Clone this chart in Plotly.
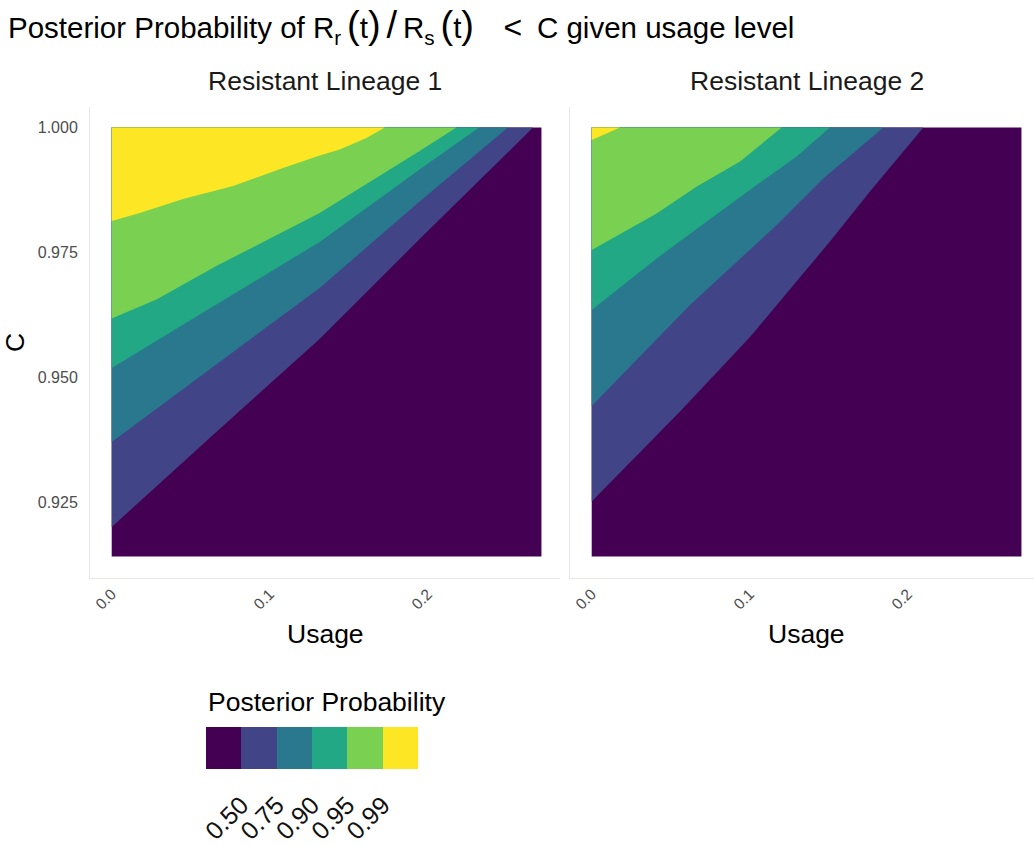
import plotly.graph_objects as go

W, H = 1034, 846

# ---- data -----------------------------------------------------------------
USAGE_MAX = 0.272
C_MIN = 0.9142
C_MAX = 1.0

LEVELS = [0.50, 0.75, 0.90, 0.95, 0.99]
LEVEL_LABELS = ["0.50", "0.75", "0.90", "0.95", "0.99"]
BAND_COLORS = ["#440154", "#414487", "#2A788E", "#22A884", "#7AD151", "#FDE725"]

LINEAGES = ["Resistant Lineage 1", "Resistant Lineage 2"]

X_TICKS = [0.0, 0.1, 0.2]
Y_TICKS = [0.925, 0.950, 0.975, 1.000]

# Contour lines of the posterior probability (usage, C) for lineage 1
lin1_p50_usage = [0.0, 0.0662, 0.1316, 0.1949, 0.2667]
lin1_p50_c = [0.9201, 0.9391, 0.9577, 0.9777, 1.000]
lin1_p75_usage = [0.0, 0.0662, 0.1316, 0.1949, 0.2508]
lin1_p75_c = [0.9371, 0.9526, 0.9679, 0.9852, 1.000]
lin1_p90_usage = [0.0, 0.0662, 0.1316, 0.1949, 0.2325]
lin1_p90_c = [0.9519, 0.9646, 0.9771, 0.9916, 1.000]
lin1_p95_usage = [0.0, 0.0283, 0.0662, 0.1316, 0.1949, 0.2181]
lin1_p95_c = [0.9618, 0.9656, 0.9723, 0.9829, 0.9953, 1.000]
lin1_p99_usage = [0.0, 0.0177, 0.0451, 0.0768, 0.1084, 0.1316, 0.1443, 0.1612, 0.1728]
lin1_p99_c = [0.9813, 0.9829, 0.9857, 0.9883, 0.9919, 0.9944, 0.9956, 0.9979, 1.000]

# Contour lines of the posterior probability (usage, C) for lineage 2
lin2_p50_usage = [0.0, 0.0559, 0.1002, 0.1508, 0.1761, 0.2099]
lin2_p50_c = [0.9252, 0.9432, 0.9581, 0.9772, 0.9872, 1.000]
lin2_p75_usage = [0.0, 0.0622, 0.1171, 0.1466, 0.1846]
lin2_p75_c = [0.9443, 0.9645, 0.9805, 0.9898, 1.000]
lin2_p90_usage = [0.0, 0.0411, 0.0728, 0.1044, 0.1297, 0.1508]
lin2_p90_c = [0.9635, 0.9738, 0.9812, 0.9885, 0.9942, 1.000]
lin2_p95_usage = [0.0, 0.0411, 0.0665, 0.0939, 0.1203]
lin2_p95_c = [0.9755, 0.9828, 0.9882, 0.9932, 1.000]
lin2_p99_usage = [0.0, 0.0179]
lin2_p99_c = [0.9975, 1.000]

CONTOURS = [
    [(lin1_p50_usage, lin1_p50_c), (lin1_p75_usage, lin1_p75_c),
     (lin1_p90_usage, lin1_p90_c), (lin1_p95_usage, lin1_p95_c),
     (lin1_p99_usage, lin1_p99_c)],
    [(lin2_p50_usage, lin2_p50_c), (lin2_p75_usage, lin2_p75_c),
     (lin2_p90_usage, lin2_p90_c), (lin2_p95_usage, lin2_p95_c),
     (lin2_p99_usage, lin2_p99_c)],
]

# ---- layout geometry (pixels) --------------------------------------------
FONT = "Liberation Sans, Arial, sans-serif"
PX_PER_U = 1580.0      # horizontal scale
PX_PER_C = 5000.0      # vertical scale
PANELS_PX = [(90, 560, 111.7), (570, 1034, 591.7)]   # left, right, pixel of usage 0
PANEL_TOP, PANEL_BOTTOM, C1_PX = 107, 578, 127.5


def px_x(p):
    return p / W


def px_y(p):
    return 1 - p / H


fig = go.Figure()

for i, name in enumerate(LINEAGES):
    xa = "x" if i == 0 else "x2"
    ya = "y" if i == 0 else "y2"
    # lowest band covers the full grid
    fig.add_trace(go.Scatter(
        x=[0, USAGE_MAX, USAGE_MAX, 0, 0],
        y=[C_MIN, C_MIN, C_MAX, C_MAX, C_MIN],
        fill="toself", mode="none", fillcolor=BAND_COLORS[0],
        xaxis=xa, yaxis=ya, showlegend=False, hoverinfo="skip"))
    # each higher band: region above its contour line
    for k, (u, c) in enumerate(CONTOURS[i]):
        fig.add_trace(go.Scatter(
            x=list(u) + [0.0], y=list(c) + [C_MAX],
            fill="toself", mode="none", fillcolor=BAND_COLORS[k + 1],
            xaxis=xa, yaxis=ya, showlegend=False, hoverinfo="skip",
            name=f"P > {LEVELS[k]:.2f}"))

# discrete colour key
n_bands = len(BAND_COLORS)
scale = []
for k, col in enumerate(BAND_COLORS):
    scale.append([k / n_bands, col])
    scale.append([(k + 1) / n_bands, col])

fig.add_trace(go.Scatter(
    x=[None], y=[None], mode="markers", showlegend=False, hoverinfo="skip",
    marker=dict(
        color=[0], cmin=0, cmax=n_bands, colorscale=scale, showscale=True,
        colorbar=dict(
            orientation="h", thickness=42, thicknessmode="pixels",
            len=212, lenmode="pixels",
            x=px_x(206), xanchor="left", y=px_y(727), yanchor="top",
            xpad=0, ypad=0, outlinewidth=0,
            tickmode="array", tickvals=list(range(1, n_bands)),
            ticktext=LEVEL_LABELS, tickangle=-45,
            ticks="outside", ticklen=12, tickcolor="rgba(0,0,0,0)",
            tickfont=dict(family=FONT, size=25, color="#111111"),
        ),
    ),
    xaxis="x", yaxis="y"))

axis_common = dict(showgrid=False, zeroline=False, showline=True,
                   linecolor="#e6e6e6", linewidth=1, ticks="", automargin=False)

P = '<span style="font-size:38px">'
TS = "\u2009"
title_text = ("Posterior Probability of R<sub>r</sub>" + TS + P + "(</span>t" + P + ")</span>"
              + TS + P + "/</span>" + TS +
              "R<sub>s</sub>" + TS + P + "(</span>t" + P + ")</span>"
              "\u2003" + '<span style="font-size:32px">&lt;</span>'
              + "\u2002C given usage level")

layout = dict(
    width=W, height=H,
    margin=dict(l=0, r=0, t=0, b=0, autoexpand=False),
    paper_bgcolor="white", plot_bgcolor="white",
    font=dict(family=FONT, color="#000000"),
    title=dict(
        text=title_text,
        x=px_x(8), xanchor="left", xref="container",
        y=px_y(28), yanchor="middle", yref="container",
        font=dict(family=FONT, size=29.5, color="#000000")),
    showlegend=False,
)

for i, (left, right, zero_px) in enumerate(PANELS_PX):
    sfx = "" if i == 0 else "2"
    layout["xaxis" + sfx] = dict(
        axis_common,
        domain=[px_x(left), px_x(right)],
        range=[(left - zero_px) / PX_PER_U, (right - zero_px) / PX_PER_U],
        tickvals=X_TICKS, tickformat=".1f", tickangle=-45,
        tickfont=dict(family=FONT, size=15.5, color="#4d4d4d"),
        anchor="y" + sfx)
    layout["yaxis" + sfx] = dict(
        axis_common,
        domain=[px_y(PANEL_BOTTOM), px_y(PANEL_TOP)],
        range=[1 - (PANEL_BOTTOM - C1_PX) / PX_PER_C,
               1 + (C1_PX - PANEL_TOP) / PX_PER_C],
        tickvals=Y_TICKS, tickformat=".3f",
        tickfont=dict(family=FONT, size=16, color="#4d4d4d"),
        showticklabels=(i == 0), ticklabelstandoff=8,
        anchor="x" + sfx)

layout["yaxis"]["title"] = dict(text="C", font=dict(family=FONT, size=26.5, color="#000000"),
                                standoff=8)

annotations = []
for i, name in enumerate(LINEAGES):
    left, right, zero_px = PANELS_PX[i]
    centre = left + (right - left + (9 if i == 1 else 0)) / 2
    annotations.append(dict(
        text=name, x=px_x(centre), y=px_y(81), xref="paper", yref="paper",
        xanchor="center", yanchor="middle", showarrow=False,
        font=dict(family=FONT, size=26.5, color="#1a1a1a")))
    annotations.append(dict(
        text="Usage", x=px_x(centre), y=px_y(634), xref="paper", yref="paper",
        xanchor="center", yanchor="middle", showarrow=False,
        font=dict(family=FONT, size=26.5, color="#000000")))

# colour key heading
annotations.append(dict(
    text="Posterior Probability", x=px_x(206), y=px_y(702),
    xref="paper", yref="paper", xanchor="left", yanchor="middle",
    showarrow=False, font=dict(family=FONT, size=26.5, color="#000000")))
layout["annotations"] = annotations

fig.update_layout(layout)
fig.write_html("out.html")
